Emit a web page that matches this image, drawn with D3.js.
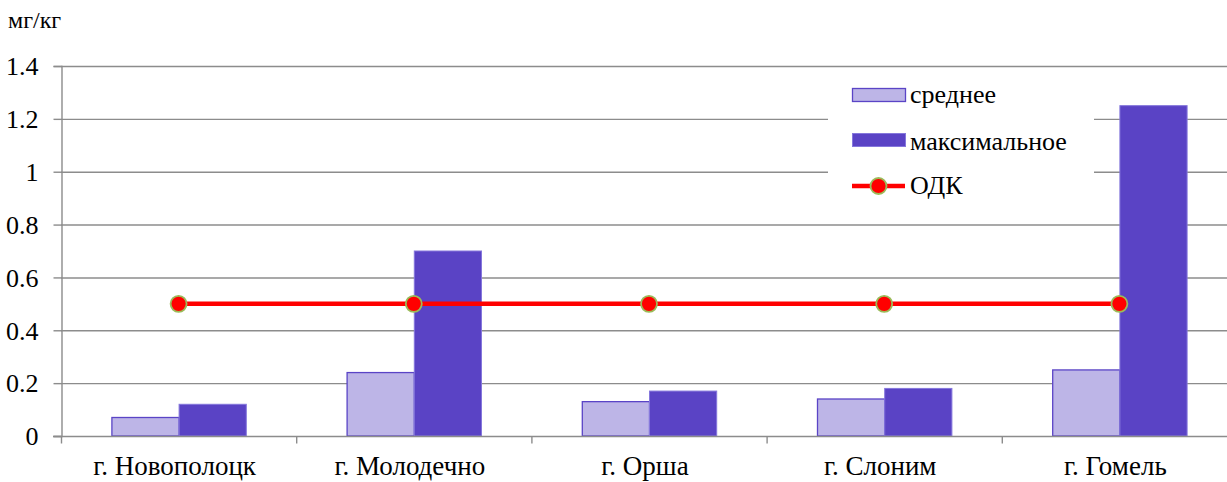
<!DOCTYPE html>
<html>
<head>
<meta charset="utf-8">
<script src="https://cdn.jsdelivr.net/npm/d3@7"></script>
<style>
  html, body { margin: 0; padding: 0; background: #fff; }
  #chart text { font-family: "Liberation Serif", "Tinos", "Times New Roman", serif; }
</style>
</head>
<body>
<svg id="chart" width="1227" height="482"></svg>
<script>
// Содержание загрязнителя в почвах городов, мг/кг
const cities = ["г. Новополоцк", "г. Молодечно", "г. Орша", "г. Слоним", "г. Гомель"];
const meanValues = [0.07, 0.24, 0.13, 0.14, 0.25];
const maxValues = [0.12, 0.70, 0.17, 0.18, 1.25];
const limitValues = [0.5, 0.5, 0.5, 0.5, 0.5];
const yTicks = [0, 0.2, 0.4, 0.6, 0.8, 1, 1.2, 1.4];
const seriesNames = ["среднее", "максимальное", "ОДК"];
const unitLabel = "мг/кг";

const FONT = "Liberation Serif";
const W = 1227, H = 482;
const margin = { left: 61, top: 66, bottom: 46 };
const plotRight = 1237; // plot area continues past the right edge

const svg = d3.select("#chart");

const x = d3.scaleBand().domain(cities).range([margin.left, plotRight]).paddingInner(0).paddingOuter(0);
const y = d3.scaleLinear().domain([0, 1.4]).range([H - margin.bottom, margin.top]);
const sub = d3.scaleBand().domain(["mean", "max"]).range([0, x.bandwidth()]).paddingInner(0).paddingOuter(0.75);
const gridColor = "#8c8c8c";

// Horizontal gridlines
svg.append("g")
  .selectAll("line")
  .data(yTicks.filter(d => d > 0))
  .join("line")
  .attr("x1", margin.left).attr("x2", W)
  .attr("y1", d => y(d) + 0.5).attr("y2", d => y(d) + 0.5)
  .attr("stroke", gridColor).attr("stroke-width", 1.4);

// Y axis
const yAxis = svg.append("g")
  .attr("transform", `translate(${margin.left + 0.5},0)`)
  .call(d3.axisLeft(y).tickValues(yTicks).tickSize(8).tickPadding(15).tickFormat(d3.format("")));
yAxis.attr("font-family", FONT).attr("font-size", 26);
yAxis.select(".domain").attr("stroke", gridColor).attr("stroke-width", 1.4);
yAxis.selectAll(".tick line").attr("stroke", gridColor).attr("stroke-width", 1.4);
yAxis.selectAll(".tick text").attr("fill", "#000").attr("dy", "0.34em");

// Bars
const groups = svg.append("g")
  .selectAll("g")
  .data(cities.map((c, i) => ({ city: c, mean: meanValues[i], max: maxValues[i] })))
  .join("g")
  .attr("transform", d => `translate(${x(d.city)},0)`);

groups.append("rect")
  .attr("x", sub("mean") + 0.5)
  .attr("width", sub.bandwidth())
  .attr("y", d => y(d.mean))
  .attr("height", d => y(0) - y(d.mean))
  .attr("fill", "#bdb5e7")
  .attr("stroke", "#5a44c6").attr("stroke-width", 1.3);

groups.append("rect")
  .attr("x", sub("max") + 0.5)
  .attr("width", sub.bandwidth())
  .attr("y", d => y(d.max))
  .attr("height", d => y(0) - y(d.max))
  .attr("fill", "#5a43c5")
  .attr("stroke", "#8577dc").attr("stroke-width", 1);

// X axis
const xAxisY = y(0) + 0.5;
svg.append("line")
  .attr("x1", margin.left - 8).attr("x2", W)
  .attr("y1", xAxisY).attr("y2", xAxisY)
  .attr("stroke", gridColor).attr("stroke-width", 1.4);
const boundaries = cities.map(c => x(c)).concat([plotRight]);
svg.append("g").selectAll("line")
  .data(boundaries)
  .join("line")
  .attr("x1", d => d + 0.5).attr("x2", d => d + 0.5)
  .attr("y1", xAxisY).attr("y2", xAxisY + 7)
  .attr("stroke", gridColor).attr("stroke-width", 1.4);

svg.append("g").selectAll("text")
  .data(cities)
  .join("text")
  .attr("x", d => x(d) + x.bandwidth() / 2 - 4)
  .attr("y", 475)
  .attr("text-anchor", "middle")
  .attr("font-family", FONT).attr("font-size", 27)
  .text(d => d);

// ОДК line with markers
const limitData = cities.map((c, i) => ({ city: c, v: limitValues[i] }));
svg.append("path")
  .datum(limitData)
  .attr("fill", "none")
  .attr("stroke", "#ff0000").attr("stroke-width", 4.5)
  .attr("d", d3.line().x(d => x(d.city) + x.bandwidth() / 2).y(d => y(d.v)));
svg.append("g").selectAll("circle")
  .data(limitData)
  .join("circle")
  .attr("cx", d => x(d.city) + x.bandwidth() / 2)
  .attr("cy", d => y(d.v))
  .attr("r", 8)
  .attr("fill", "#ff0000")
  .attr("stroke", "#9bbb59").attr("stroke-width", 1.8);

// Unit label
svg.append("text").attr("x", 8).attr("y", 28)
  .attr("font-family", FONT).attr("font-size", 24)
  .text(unitLabel);

// Legend
const lg = svg.append("g");
lg.append("rect").attr("x", 828).attr("y", 76).attr("width", 266).attr("height", 140).attr("fill", "#fff");
const lx = 852, sw = 53;
lg.append("rect").attr("x", lx + 0.5).attr("y", 88.5).attr("width", sw).attr("height", 13)
  .attr("fill", "#bdb5e7").attr("stroke", "#5a44c6").attr("stroke-width", 1.3);
lg.append("rect").attr("x", lx + 0.5).attr("y", 133.5).attr("width", sw).attr("height", 13)
  .attr("fill", "#5a43c5").attr("stroke", "#8577dc").attr("stroke-width", 1);
lg.append("line").attr("x1", lx).attr("x2", lx + sw).attr("y1", 186).attr("y2", 186)
  .attr("stroke", "#ff0000").attr("stroke-width", 4.5);
lg.append("circle").attr("cx", lx + sw / 2).attr("cy", 186).attr("r", 8)
  .attr("fill", "#ff0000").attr("stroke", "#9bbb59").attr("stroke-width", 1.8);
const legendY = [103, 150, 194];
lg.selectAll("text.lt")
  .data(seriesNames)
  .join("text")
  .attr("class", "lt")
  .attr("x", 910)
  .attr("y", (d, i) => legendY[i])
  .attr("font-family", FONT).attr("font-size", 26)
  .text(d => d);
</script>
</body>
</html>
